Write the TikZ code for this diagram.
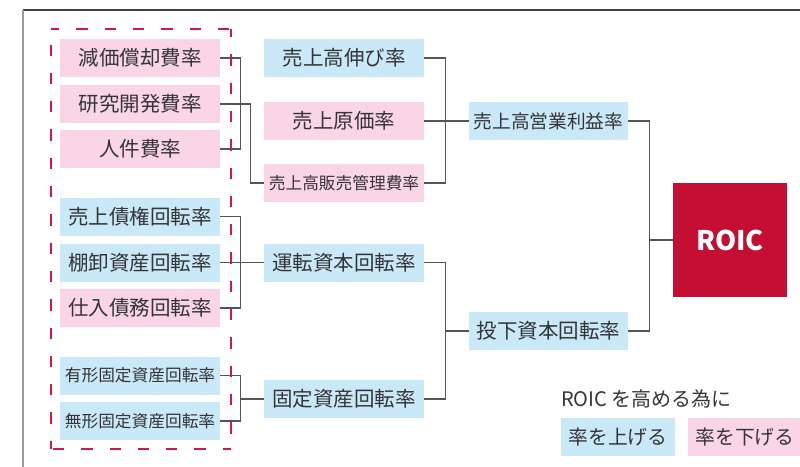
\documentclass[tikz,border=0pt]{standalone}
\usepackage{fontspec}
\setmainfont{Noto Sans CJK JP}
\definecolor{bluebox}{HTML}{C9E8F8}
\definecolor{pinkbox}{HTML}{F9D5E5}
\definecolor{roicred}{HTML}{C40E34}
\definecolor{dashred}{HTML}{D5164A}
\definecolor{txt}{HTML}{353535}
\definecolor{conn}{HTML}{555555}
\tikzset{
  box/.style={inner sep=0pt, minimum width=160pt, minimum height=38pt, text=txt, font=\fontsize{20.5}{22}\selectfont},
  bluebx/.style={box, fill=bluebox},
  pinkbx/.style={box, fill=pinkbox},
  connector/.style={draw=conn, line width=1.2pt},
  dashbox/.style={draw=dashred, line width=2.8pt, dash pattern=on 11.3pt off 17pt, dash phase=3pt},
}
\begin{document}
\begin{tikzpicture}[x=1pt,y=-1pt]
\useasboundingbox (0,0) rectangle (800,466);
% frame
\draw[draw=black!75, line width=1.2pt] (23,10) -- (801,10);
\draw[draw=black!40, line width=1.6pt] (23,10) -- (23,467);
% dashed group
\draw[dashbox] (51,29) -- (231,29);
\draw[dashbox] (231,29) -- (231,449);
\draw[dashbox] (231,449) -- (51,449);
\draw[dashbox] (51,449) -- (51,29);
% left column
\node[pinkbx] (gen) at (140,58) {減価償却費率};
\node[pinkbx] (ken) at (140,104) {研究開発費率};
\node[pinkbx] (jin) at (140,149) {人件費率};
\node[bluebx] (uri) at (140,216.5) {売上債権回転率};
\node[bluebx] (tana) at (140,262.5) {棚卸資産回転率};
\node[pinkbx] (shi) at (140,308) {仕入債務回転率};
\node[bluebx, font=\fontsize{16.7}{18}\selectfont] (yuk) at (140,375.5) {有形固定資産回転率};
\node[bluebx, font=\fontsize{16.7}{18}\selectfont] (muk) at (140,421) {無形固定資産回転率};
% middle column
\node[bluebx] (nobi) at (344,58) {売上高伸び率};
\node[pinkbx] (genka) at (344,121) {売上原価率};
\node[pinkbx, font=\fontsize{16.7}{18}\selectfont] (hanb) at (344,183) {売上高販売管理費率};
\node[bluebx] (unten) at (344,262.5) {運転資本回転率};
\node[bluebx] (kotei) at (344,399) {固定資産回転率};
% right column
\node[bluebx, minimum width=159pt, font=\fontsize{18.7}{20}\selectfont] (eigyo) at (548.5,121) {売上高営業利益率};
\node[bluebx, minimum width=159pt] (toka) at (548.5,331) {投下資本回転率};
% ROIC
\node[fill=roicred, inner sep=0pt, minimum width=114pt, minimum height=114pt, text=white, font=\fontsize{27}{29}\selectfont\bfseries] (roic) at (730,240) {ROIC};
% legend
\node[anchor=west, inner sep=0pt, text=txt, font=\fontsize{20}{22}\selectfont] (legt) at (561,399) {ROIC\hspace{4pt}を高める為に};
\node[bluebx, minimum width=114pt, font=\fontsize{19.8}{21}\selectfont] (up) at (618,437) {率を上げる};
\node[pinkbx, minimum width=114pt, font=\fontsize{19.8}{21}\selectfont] (down) at (745,437) {率を下げる};
% connectors
\draw[connector] (gen.east) -- ++(20,0) |- (jin.east);
\draw[connector] (ken.east) -- ++(30,0) |- (hanb.west);
\draw[connector] (uri.east) -- ++(20,0) |- (shi.east);
\draw[connector] (tana.east) -- (unten.west);
\draw[connector] (yuk.east) -- ++(20,0) |- (muk.east);
\draw[connector] (kotei.west) -- ++(-24,0);
\draw[connector] (nobi.east) -- ++(21,0) |- (hanb.east);
\draw[connector] (genka.east) -- (eigyo.west);
\draw[connector] (unten.east) -- ++(21,0) |- (kotei.east);
\draw[connector] (toka.west) -- ++(-24,0);
\draw[connector] (eigyo.east) -- ++(21,0) |- (toka.east);
\draw[connector] (roic.west) -- ++(-24,0);
\end{tikzpicture}
\end{document}
